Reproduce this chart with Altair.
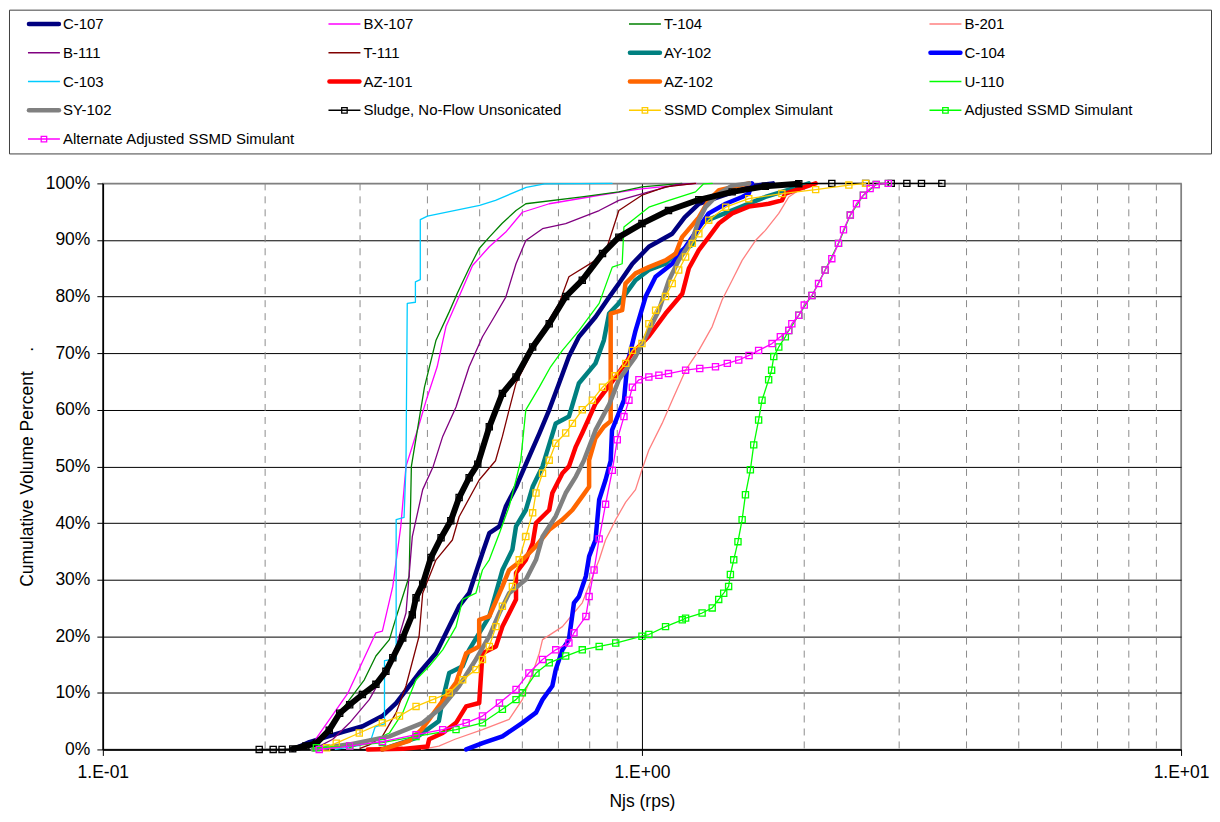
import altair as alt
import pandas as pd

# ---------------- data ----------------
SERIES = ["C-107", "BX-107", "T-104", "B-201",
          "B-111", "T-111", "AY-102", "C-104",
          "C-103", "AZ-101", "AZ-102", "U-110",
          "SY-102", "Sludge, No-Flow Unsonicated", "SSMD Complex Simulant", "Adjusted SSMD Simulant",
          "Alternate Adjusted SSMD Simulant"]

C107 = [(0.225,0),(0.2416,1.3),(0.279,3.1),(0.3034,4.1),(0.33,5.9),(0.35,8.2),(0.37,11.2),(0.386,13.5),
        (0.415,17),(0.439,21.7),(0.458,25.3),(0.478,27.6),(0.492,31.2),(0.506,34.7),(0.521,38.2),(0.544,39.4),
        (0.559,42.9),(0.584,46.4),(0.613,51),(0.645,55.8),(0.673,60),(0.702,64.7),(0.732,69.4),(0.764,72.9),
        (0.82,76.4),(0.869,79.9),(0.906,82.3),(0.96,85.8),(1.03,88.8),(1.138,91.1),(1.2,94),(1.275,96.4),
        (1.43,98),(1.6,99.5),(1.75,100)]
BX107 = [(0.245,0.5),(0.249,2),(0.285,10),(0.321,20.6),(0.33,20.9),(0.345,28.8),(0.357,39.4),(0.365,50),
         (0.385,57),(0.398,61.7),(0.417,67.6),(0.433,74.7),(0.458,80),(0.485,85.5),(0.521,88.8),(0.559,91.4),
         (0.6,94.9),(0.673,96.4),(0.833,97.9),(0.987,99),(1.26,100)]
T104 = [(0.245,0.5),(0.252,1.8),(0.263,4.1),(0.275,6.5),(0.29,9.4),(0.3055,12.3),(0.321,16.5),(0.34,19.4),
        (0.352,24.1),(0.37,30.6),(0.3735,50),(0.395,64),(0.415,72.3),(0.439,77.3),(0.4545,80.6),(0.478,85),
        (0.499,88.5),(0.521,90.5),(0.55,92.9),(0.584,95.2),(0.609,96.4),(0.774,97.6),(0.906,98.5),(1.0,99.4),
        (1.186,100)]
B201 = [(0.39,0),(0.42,0.6),(0.45,1.8),(0.506,3.5),(0.567,5.3),(0.6,8.8),(0.627,13.5),(0.645,17),(0.654,19.4),
        (0.712,21.7),(0.775,25.9),(0.833,33.5),(0.856,37),(0.894,40.6),(0.933,43.7),(0.973,45.9),(1.0,49.4),
        (1.03,52.9),(1.09,57.6),(1.138,61.7),(1.205,67),(1.275,70.5),(1.35,74.7),(1.408,79.4),(1.47,82.9),
        (1.534,86.4),(1.624,89.9),(1.694,91.7),(1.794,94.7),(1.872,97.6),(1.954,98.8),(2.0,99.7),(2.05,100)]
B111 = [(0.25,0.3),(0.255,0.8),(0.267,1.8),(0.287,4.7),(0.312,8.8),(0.33,12.9),(0.35,18.2),(0.365,24.1),
        (0.375,37.6),(0.392,45.9),(0.41,50),(0.427,55.3),(0.452,60.5),(0.478,67.6),(0.506,72.9),(0.532,76.4),
        (0.559,79.9),(0.584,85.8),(0.609,89.9),(0.654,92),(0.722,92.9),(0.833,95.2),(0.906,97),(1.03,98.5),
        (1.155,99.8),(1.25,100)]
T111 = [(0.30,0.2),(0.312,0.8),(0.33,2.3),(0.35,6.5),(0.365,11.2),(0.386,20),(0.392,27.6),(0.415,33.5),
        (0.445,37),(0.458,41.1),(0.499,47.6),(0.535,51),(0.551,55.3),(0.567,60),(0.584,64.7),(0.627,70.5),
        (0.654,74),(0.702,78.8),(0.732,83.5),(0.82,86.4),(0.862,88.8),(0.906,95.2),(1.0,97.9),(1.106,99.4),
        (1.257,100)]
AY102 = [(0.33,0),(0.38,2),(0.42,5),(0.427,8.8),(0.439,13.5),(0.465,14.7),(0.478,17.6),(0.521,23.5),
         (0.536,27.6),(0.551,31.7),(0.575,35.3),(0.584,39.4),(0.609,42.3),(0.627,46.4),(0.654,50),(0.692,57.6),
         (0.732,58.8),(0.764,64.7),(0.82,68.2),(0.85,72.3),(0.869,77),(0.906,78.8),(0.973,82.9),(1.03,84.7),
         (1.106,85.8),(1.155,87.6),(1.239,89.1),(1.275,92.9),(1.467,95.2),(1.694,97.6),(1.818,98.5),(2.04,100)]
C104 = [(0.472,0),(0.506,1.1),(0.551,2.3),(0.6,4.7),(0.636,6.5),(0.654,8.8),(0.682,11.2),(0.692,14.1),
        (0.712,17.6),(0.732,19.4),(0.748,25.9),(0.764,27),(0.787,30.6),(0.798,34.1),(0.82,37),(0.833,44.1),
        (0.856,47.6),(0.875,51),(0.88,56.4),(0.906,59.4),(0.926,61.7),(0.94,68.2),(0.973,74),(1.016,80),
        (1.06,83.5),(1.138,85.8),(1.205,88.8),(1.33,94.7),(1.43,96.4),(1.534,97.6),(1.578,98.2),(1.6,100)]
C103 = [(0.27,0),(0.30,0.7),(0.315,2),(0.32,4),(0.333,4.5),(0.333,15.7),(0.35,16),(0.35,40.6),(0.362,41),
        (0.365,50),(0.367,78.8),(0.38,79),(0.38,82.6),(0.388,83),(0.388,93.6),(0.40,94.2),(0.5,96.1),
        (0.535,97),(0.61,99.3),(0.66,99.9),(0.88,100)]
AZ101 = [(0.31,0),(0.36,0.1),(0.40,0.5),(0.403,1.8),(0.427,2.9),(0.452,4.7),(0.472,7.6),(0.499,8.2),
         (0.506,17),(0.536,18.2),(0.551,21.7),(0.584,26.5),(0.584,31.2),(0.609,33.5),(0.627,36.4),(0.636,40),
         (0.673,42.3),(0.682,45.3),(0.712,48.8),(0.732,50),(0.754,53.5),(0.775,55.9),(0.82,61.1),(0.894,65.8),
         (0.96,70),(1.03,73),(1.106,77),(1.188,80.5),(1.222,85),(1.275,88.2),(1.33,90.5),(1.388,92.9),
         (1.47,94.7),(1.578,95.9),(1.718,96.4),(1.818,97),(1.845,98.2),(2.1,100)]
AZ102 = [(0.33,0),(0.37,1.5),(0.39,3.5),(0.403,5.3),(0.452,11.8),(0.472,17),(0.499,18.2),(0.499,22.9),
         (0.521,23.5),(0.551,28.8),(0.567,31.7),(0.6,33.5),(0.636,35.9),(0.673,38.8),(0.712,40.6),(0.743,42.3),
         (0.775,44.7),(0.798,46.4),(0.798,51.1),(0.82,55),(0.85,57),(0.875,58),(0.875,77),(0.919,77.6),
         (0.932,82.3),(0.973,84.1),(1.03,85.2),(1.106,86.4),(1.155,87.6),(1.187,90.5),(1.275,94),(1.33,97),
         (1.39,98.8),(1.58,100)]
U110 = [(0.287,0.3),(0.321,1.8),(0.34,2.9),(0.36,6.5),(0.381,12.3),(0.403,14.7),(0.427,17.6),(0.452,21.7),
        (0.465,26.5),(0.492,27.6),(0.506,31.7),(0.521,33.5),(0.544,38.2),(0.567,42.9),(0.584,47.6),(0.596,51.1),
        (0.609,60),(0.645,64),(0.677,67.6),(0.712,70.5),(0.764,74),(0.833,78.8),(0.881,85.2),(0.919,85.8),
        (0.926,92.3),(1.03,95.8),(1.122,97),(1.257,98.5),(1.3,99.9),(1.35,100)]
SY102 = [(0.245,0),(0.287,0.9),(0.34,2.3),(0.392,4.7),(0.427,7.6),(0.458,11.2),(0.492,15.9),(0.521,20),
         (0.544,24.1),(0.567,27.6),(0.609,30),(0.636,33.5),(0.654,37.6),(0.692,41.2),(0.722,45.3),(0.754,48.2),
         (0.78,51),(0.82,56.4),(0.87,61),(0.906,65.3),(0.973,69.4),(1.03,74),(1.075,77.6),(1.122,82.9),
         (1.17,86.4),(1.239,90),(1.275,93.5),(1.312,95.8),(1.388,98.2),(1.47,99.6),(1.58,100)]
SLUDGE = [(0.195,0),(0.207,0),(0.215,0),(0.225,0.1),(0.238,0.6),(0.249,1.1),(0.263,3.4),(0.275,6.4),
          (0.287,7.9),(0.303,9.7),(0.321,11.5),(0.335,13.8),(0.345,16.2),(0.36,19.7),(0.375,23.8),(0.381,26.8),
          (0.392,29.2),(0.406,33.9),(0.424,37.4),(0.442,40.4),(0.458,44.5),(0.478,48),(0.496,50.4),(0.521,57),
          (0.551,62.9),(0.584,65.8),(0.627,71.1),(0.673,75.2),(0.722,80),(0.775,82.9),(0.845,87.6),(0.906,90.5),
          (1.0,92.9),(1.12,95.2),(1.275,97.1),(1.47,98.5),(1.694,99.5),(1.954,99.95),(2.25,100),(2.6,100),
          (2.9,100),(3.1,100),(3.3,100),(3.6,100)]
SSMD = [(0.26,0.3),(0.271,1.1),(0.299,2.9),(0.33,4.7),(0.355,5.9),(0.381,7.6),(0.409,8.8),(0.439,10),
        (0.465,12.3),(0.492,14.1),(0.506,15.9),(0.521,18.2),(0.536,21.7),(0.551,25.3),(0.575,28.8),(0.592,33.5),
        (0.609,37.6),(0.627,41.8),(0.636,45.3),(0.654,48.8),(0.673,51.1),(0.692,54.1),(0.722,55.9),(0.743,57.6),
        (0.775,60),(0.809,61.7),(0.845,64),(0.89,66),(0.933,68.2),(0.96,70.5),(1.0,71.7),(1.03,75.2),
        (1.06,77.6),(1.106,80),(1.138,82.3),(1.17,84.7),(1.205,87),(1.24,89.4),(1.275,91.1),(1.33,93.5),
        (1.43,95.8),(1.578,97.3),(1.818,98.2),(2.1,98.9),(2.42,99.7),(2.6,100)]
ADJ = [(0.249,0.3),(0.287,0.6),(0.33,1.2),(0.381,2.3),(0.452,3.5),(0.506,4.7),(0.551,7.1),(0.584,8.8),
       (0.6,10),(0.636,13.5),(0.673,15.3),(0.722,16.5),(0.775,17.6),(0.833,18.2),(0.894,18.8),(1.0,20),
       (1.03,20.3),(1.106,21.7),(1.188,22.9),(1.205,23.2),(1.293,24.1),(1.35,25),(1.388,26.5),(1.418,27.6),
       (1.448,28.8),(1.459,30.9),(1.48,33.5),(1.507,36.7),(1.534,40.6),(1.556,45),(1.589,49.4),(1.612,53.8),
       (1.646,58.2),(1.67,61.7),(1.718,65.3),(1.74,67),(1.756,69.4),(1.794,71.1),(1.845,72.9),(1.872,74),
       (1.954,76.7),(2.067,80.2),(2.187,84.7),(2.315,89.4),(2.435,94.4),(2.575,97.9),(2.72,99.8),(2.865,100)]
ALT = [(0.252,0),(0.287,0.6),(0.33,1.4),(0.381,2.6),(0.427,3.5),(0.472,4.7),(0.506,5.9),(0.544,8.2),
       (0.584,10.6),(0.617,13.5),(0.654,15.9),(0.692,17.6),(0.732,18.8),(0.748,20.6),(0.787,23.5),(0.798,27),
       (0.815,31.7),(0.833,37.2),(0.856,43.3),(0.881,49.3),(0.9,54.7),(0.926,58.8),(0.946,61.7),(0.96,64),
       (0.987,65.3),(1.03,65.8),(1.075,66.1),(1.12,66.4),(1.205,67),(1.28,67.3),(1.369,67.6),(1.44,68.2),
       (1.512,68.8),(1.58,69.6),(1.646,70.5),(1.743,71.7),(1.806,72.9),(1.872,74),(1.897,75.2),(1.954,76.7),
       (2.0,78.5),(2.067,80.2),(2.126,82.3),(2.187,84.7),(2.25,86.7),(2.315,89.4),(2.365,91.8),(2.435,94.4),
       (2.5,96.4),(2.575,97.9),(2.65,99.1),(2.72,99.8),(2.865,100)]

SERIES_POINTS = [C107, BX107, T104, B201, B111, T111, AY102, C104, C103,
                 AZ101, AZ102, U110, SY102, SLUDGE, SSMD, ADJ, ALT]
HAS_MARKERS = [False] * 13 + [True] * 4
DENSE_MARKERS = "Sludge, No-Flow Unsonicated"

X_TICKS = [0.1, 1, 10]
X_TICK_LABELS = ["1.E-01", "1.E+00", "1.E+01"]
MINOR_TICKS = [0.2, 0.3, 0.4, 0.5, 0.6, 0.7, 0.8, 0.9, 2, 3, 4, 5, 6, 7, 8, 9]
Y_TICKS = [0, 10, 20, 30, 40, 50, 60, 70, 80, 90, 100]

# ---------------- styles ----------------
COLORS = ["#000080", "#FF00FF", "#008000", "#FF8080",
          "#800080", "#800000", "#008080", "#0000FF",
          "#00CCFF", "#FF0000", "#FF6600", "#00FF00",
          "#808080", "#000000", "#FFCC00", "#00FF00",
          "#FF00FF"]
THICK = 4.5
THIN = 1.3
IS_THICK = [True, False, False, False, False, False, True, True, False,
            True, True, False, True, False, False, False, False]
FONT = "Liberation Sans"

color_scale = alt.Scale(domain=SERIES, range=COLORS)
C = alt.Color("series:N", scale=color_scale, legend=None)

x_label_expr = " : ".join(f"datum.value == {v} ? '{l}'" for v, l in zip(X_TICKS, X_TICK_LABELS)) + " : ''"

x_axis = alt.Axis(values=X_TICKS, labelExpr=x_label_expr, title="Njs (rps)",
                  grid=True, gridWidth=1,
                  gridColor={"condition": {"test": "datum.value == 10", "value": "#808080"}, "value": "black"},
                  domainColor="black", domainWidth=1.5, tickColor="black", tickSize=6,
                  labelFontSize=17.5, labelColor="black", labelPadding=8, labelFlush=False,
                  labelOverlap=False, labelFont=FONT,
                  titleFontSize=17.5, titleFontWeight="normal", titleColor="black", titlePadding=12,
                  titleFont=FONT)
y_title = "Cumulative Volume Percent" + "\u00a0" * 4 + "."
y_axis = alt.Axis(values=Y_TICKS, labelExpr="datum.value + '%'", title=y_title,
                  grid=True, gridWidth=1,
                  gridColor={"condition": {"test": "datum.value == 100", "value": "#808080"}, "value": "black"},
                  domainColor="black", domainWidth=1.5, tickColor="black", tickSize=6,
                  labelFontSize=17.5, labelColor="black", labelPadding=7, labelFont=FONT,
                  titleFontSize=17.5, titleFontWeight="normal", titleColor="black", titlePadding=9,
                  titleFont=FONT)

x_scale = alt.Scale(type="log", domain=[0.1, 10])
y_scale = alt.Scale(domain=[0, 100])
X = alt.X("x:Q", scale=x_scale, axis=x_axis)
Y = alt.Y("y:Q", scale=y_scale, axis=y_axis)

minor_df = pd.DataFrame({"x": MINOR_TICKS})
layers = [alt.Chart(minor_df).mark_rule(color="#8c8c8c", strokeDash=[7, 6], strokeWidth=1).encode(x=X)]

for name, pts, thick, mk in zip(SERIES, SERIES_POINTS, IS_THICK, HAS_MARKERS):
    df = pd.DataFrame({"series": name,
                       "x": [p[0] for p in pts],
                       "y": [p[1] for p in pts],
                       "i": list(range(len(pts)))})
    base = alt.Chart(df)
    layers.append(base.mark_line(strokeWidth=THICK if thick else THIN, strokeJoin="round",
                                 strokeCap="round").encode(x=X, y=Y, color=C, order="i:Q"))
    if name == DENSE_MARKERS:
        # the markers of this series overlap into a solid band where they are dense
        layers.append(base.transform_filter("datum.y > 0 && datum.y < 100").mark_line(
            strokeWidth=6, strokeJoin="round", strokeCap="round").encode(x=X, y=Y, color=C, order="i:Q"))
    if mk:
        layers.append(base.mark_point(shape="square", filled=False, size=38, strokeWidth=1.3,
                                      opacity=1).encode(x=X, y=Y, color=C))

main = alt.layer(*layers).properties(
    width=1080, height=567,
    view=alt.ViewBackground(stroke="#808080", strokeWidth=1.5))

spacer = alt.Chart(pd.DataFrame({"s": [""]})).mark_text().encode(text="s:N").properties(
    width=7, height=567, view=alt.ViewBackground(stroke="transparent"))

# ---------------- legend panel ----------------
n = len(SERIES)
leg_df = pd.DataFrame({"series": SERIES,
                       "col": [i % 4 for i in range(n)],
                       "row": [i // 4 for i in range(n)],
                       "marker": HAS_MARKERS,
                       "thick": IS_THICK})
LX = alt.X("col:O", scale=alt.Scale(type="band", paddingInner=0, paddingOuter=0), axis=None, bandPosition=0)
LX2 = alt.X2(field="col", bandPosition=0)
LY = alt.Y("row:O", scale=alt.Scale(type="band", paddingInner=0, paddingOuter=0), axis=None, bandPosition=0.5)

lbase = alt.Chart(leg_df)
leg_thick = lbase.transform_filter("datum.thick").mark_rule(
    xOffset=20, x2Offset=50, strokeCap="round", strokeWidth=THICK).encode(x=LX, x2=LX2, y=LY, color=C)
leg_thin = lbase.transform_filter("!datum.thick").mark_rule(
    xOffset=19, x2Offset=51, strokeWidth=THIN + 0.3).encode(x=LX, x2=LX2, y=LY, color=C)
leg_mk = lbase.transform_filter("datum.marker").mark_point(
    shape="square", filled=False, size=30, strokeWidth=1.3, xOffset=35, opacity=1).encode(x=LX, y=LY, color=C)
leg_txt = lbase.mark_text(align="left", baseline="middle", dx=54, fontSize=15, font=FONT,
                          color="black").encode(x=LX, y=LY, text="series:N")

legend = alt.layer(leg_thick, leg_thin, leg_mk, leg_txt).properties(
    width=1204, height=144,
    view=alt.ViewBackground(stroke="#404040", strokeWidth=1))

row = alt.hconcat(spacer, main, spacing=0)
chart = alt.vconcat(legend, row, spacing=19).properties(
    padding=0, background="white").configure(font=FONT)

chart.save("out.html", embed_options={"renderer": "svg", "actions": False})
